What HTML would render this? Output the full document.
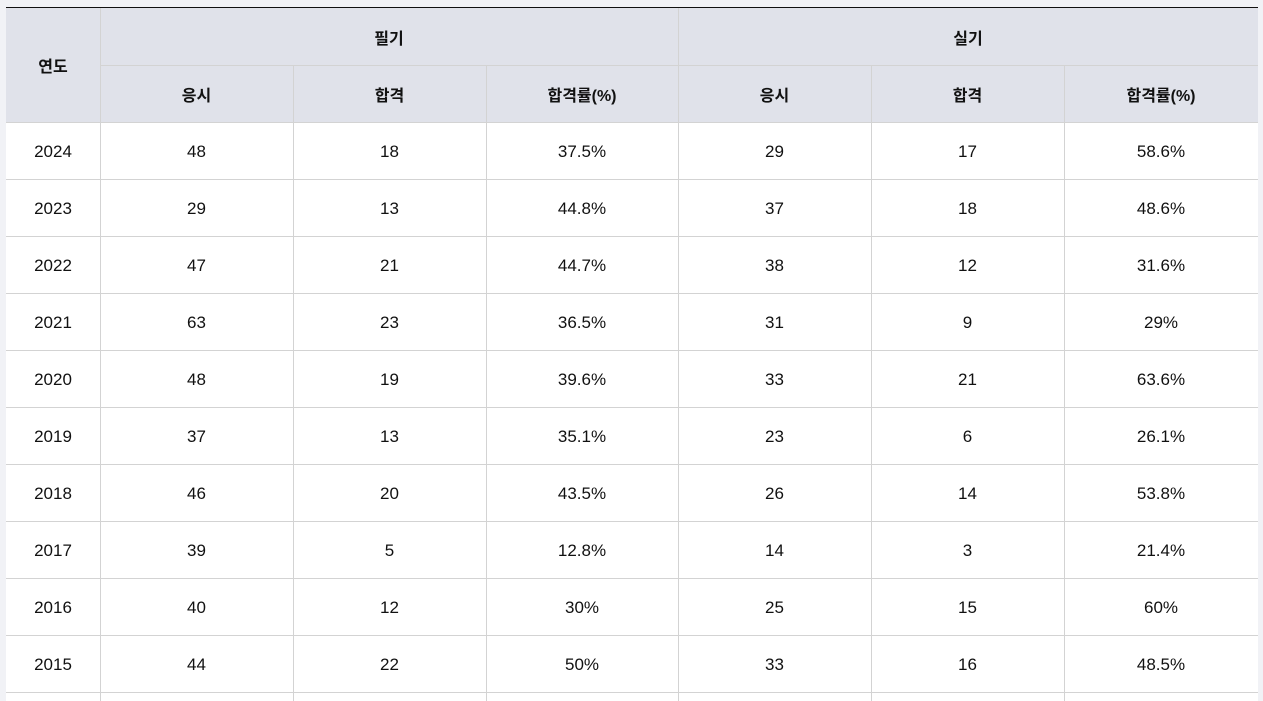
<!DOCTYPE html>
<html><head><meta charset="utf-8"><style>
html,body{margin:0;width:1263px;height:701px;overflow:hidden}
body{background:#f1f2f6;font-family:"Liberation Sans","Noto Sans CJK KR",sans-serif;position:relative}
.c{position:absolute;display:flex;align-items:center;justify-content:center;box-sizing:border-box;font-size:17px;color:#111}
.h{background:#e0e2ea;font-weight:bold;font-size:16px}
.d{background:#fff}
.line{position:absolute;background:#d3d3d3}
</style></head><body>
<div style="position:absolute;left:6px;top:7px;width:1252px;height:1px;background:#111"></div>
<div id="t"></div>
<script>
(function(){
var xs=[6,100,293,486,678,871,1064,1258];
var out='';
function cell(x1,y1,x2,y2,txt,cls){out+='<div class="c '+cls+'" style="left:'+x1+'px;top:'+y1+'px;width:'+(x2-x1)+'px;height:'+(y2-y1)+'px">'+txt+'</div>';}
cell(6,8,1258,122,'','h');
cell(6,8,100,122,'연도','h');
cell(100,8,678,65,'필기','h');
cell(678,8,1258,65,'실기','h');
var hh=['응시','합격','합격률(%)','응시','합격','합격률(%)'];
for(var i=0;i<6;i++)cell(xs[i+1],66,xs[i+2],122,hh[i],'h');
var data=[[2024,48,18,'37.5%',29,17,'58.6%'],[2023,29,13,'44.8%',37,18,'48.6%'],[2022,47,21,'44.7%',38,12,'31.6%'],[2021,63,23,'36.5%',31,9,'29%'],[2020,48,19,'39.6%',33,21,'63.6%'],[2019,37,13,'35.1%',23,6,'26.1%'],[2018,46,20,'43.5%',26,14,'53.8%'],[2017,39,5,'12.8%',14,3,'21.4%'],[2016,40,12,'30%',25,15,'60%'],[2015,44,22,'50%',33,16,'48.5%']];
for(var r=0;r<data.length;r++){var y=123+57*r;for(var j=0;j<7;j++)cell(xs[j],y,xs[j+1],y+57,data[r][j],'d');}
cell(6,693,1258,701,'','d');
out+='<div class="line" style="left:100px;top:65px;width:1158px;height:1px"></div>';
out+='<div class="line" style="left:6px;top:122px;width:1252px;height:1px"></div>';
for(var r=0;r<10;r++)out+='<div class="line" style="left:6px;top:'+(179+57*r)+'px;width:1252px;height:1px"></div>';
for(var j=1;j<7;j++){var ty=(j==1||j==4)?8:66;out+='<div class="line" style="left:'+xs[j]+'px;top:'+ty+'px;width:1px;height:'+(701-ty)+'px"></div>';}
document.getElementById('t').innerHTML=out;
})();
</script>
</body></html>
